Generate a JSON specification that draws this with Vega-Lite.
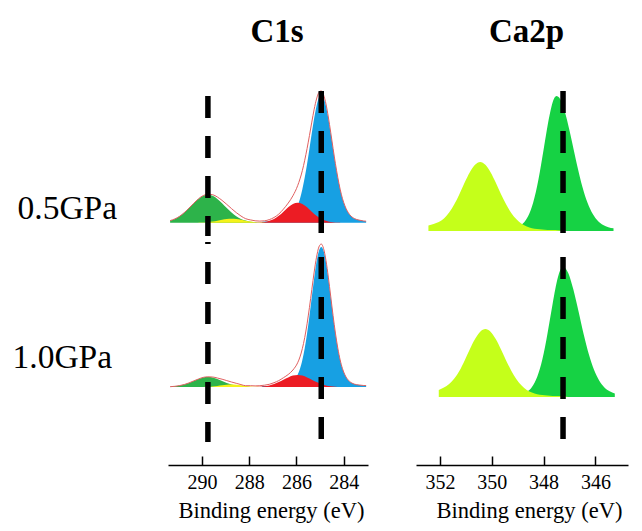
{
  "$schema": "https://vega.github.io/schema/vega-lite/v6.json",
  "padding": {"left": 12, "top": 16, "right": 5, "bottom": 5},
  "background": "white",
  "datasets": {
    "c05": [
      {"c":"C-C","be":287.45,"i":1.0},{"c":"C-C","be":287.15,"i":1.2},{"c":"C-C","be":286.95,"i":1.4},{"c":"C-C","be":286.85,"i":1.5},{"c":"C-C","be":286.75,"i":1.7},{"c":"C-C","be":286.65,"i":2.1},{"c":"C-C","be":286.55,"i":2.6},{"c":"C-C","be":286.45,"i":3.2},{"c":"C-C","be":286.35,"i":4.2},{"c":"C-C","be":286.25,"i":5.8},{"c":"C-C","be":286.15,"i":8.2},{"c":"C-C","be":286.05,"i":11.8},{"c":"C-C","be":285.95,"i":17.0},{"c":"C-C","be":285.85,"i":24.0},{"c":"C-C","be":285.75,"i":33.4},{"c":"C-C","be":285.65,"i":45.1},{"c":"C-C","be":285.55,"i":58.8},{"c":"C-C","be":285.45,"i":73.9},{"c":"C-C","be":285.35,"i":89.6},{"c":"C-C","be":285.25,"i":104.5},{"c":"C-C","be":285.15,"i":116.8},{"c":"C-C","be":285.05,"i":125.0},{"c":"C-C","be":284.95,"i":128},{"c":"C-C","be":284.85,"i":125.0},{"c":"C-C","be":284.75,"i":116.8},{"c":"C-C","be":284.65,"i":104.5},{"c":"C-C","be":284.55,"i":89.6},{"c":"C-C","be":284.45,"i":73.9},{"c":"C-C","be":284.35,"i":58.8},{"c":"C-C","be":284.25,"i":45.1},{"c":"C-C","be":284.15,"i":33.4},{"c":"C-C","be":284.05,"i":24.0},{"c":"C-C","be":283.95,"i":17.0},{"c":"C-C","be":283.85,"i":11.8},{"c":"C-C","be":283.75,"i":8.2},{"c":"C-C","be":283.65,"i":5.8},{"c":"C-C","be":283.55,"i":4.2},{"c":"C-C","be":283.45,"i":3.2},{"c":"C-C","be":283.35,"i":2.6},{"c":"C-C","be":283.25,"i":2.1},{"c":"C-C","be":283.15,"i":1.7},{"c":"C-C","be":283.05,"i":1.5},
      {"c":"C-O","be":287.75,"i":0.1},{"c":"C-O","be":287.55,"i":0.3},{"c":"C-O","be":287.35,"i":0.8},{"c":"C-O","be":287.15,"i":1.9},{"c":"C-O","be":286.95,"i":3.8},{"c":"C-O","be":286.75,"i":6.9},{"c":"C-O","be":286.55,"i":11.0},{"c":"C-O","be":286.35,"i":15.4},{"c":"C-O","be":286.15,"i":18.7},{"c":"C-O","be":285.95,"i":20},{"c":"C-O","be":285.75,"i":18.7},{"c":"C-O","be":285.55,"i":15.4},{"c":"C-O","be":285.35,"i":11.0},{"c":"C-O","be":285.15,"i":6.9},{"c":"C-O","be":284.95,"i":3.8},{"c":"C-O","be":284.75,"i":1.9},{"c":"C-O","be":284.55,"i":0.8},{"c":"C-O","be":284.35,"i":0.3},{"c":"C-O","be":284.15,"i":0.1},
      {"c":"CO3","be":291.35,"i":2.1},{"c":"CO3","be":291.15,"i":3.8},{"c":"CO3","be":290.95,"i":6.4},{"c":"CO3","be":290.75,"i":10.1},{"c":"CO3","be":290.55,"i":14.6},{"c":"CO3","be":290.35,"i":19.4},{"c":"CO3","be":290.15,"i":23.8},{"c":"CO3","be":289.95,"i":26.9},{"c":"CO3","be":289.75,"i":28},{"c":"CO3","be":289.55,"i":26.9},{"c":"CO3","be":289.35,"i":23.8},{"c":"CO3","be":289.15,"i":19.4},{"c":"CO3","be":288.95,"i":14.6},{"c":"CO3","be":288.75,"i":10.1},{"c":"CO3","be":288.55,"i":6.4},{"c":"CO3","be":288.35,"i":3.8},{"c":"CO3","be":288.15,"i":2.1},{"c":"CO3","be":287.95,"i":1.0},{"c":"CO3","be":287.75,"i":0.5},{"c":"CO3","be":287.55,"i":0.2},{"c":"CO3","be":287.35,"i":0},
      {"c":"C=O","be":290.15,"i":0.1},{"c":"C=O","be":289.95,"i":0.2},{"c":"C=O","be":289.75,"i":0.5},{"c":"C=O","be":289.55,"i":1.1},{"c":"C=O","be":289.35,"i":1.9},{"c":"C=O","be":289.15,"i":2.9},{"c":"C=O","be":288.95,"i":3.7},{"c":"C=O","be":288.75,"i":4.0},{"c":"C=O","be":288.55,"i":3.7},{"c":"C=O","be":288.35,"i":2.9},{"c":"C=O","be":288.15,"i":1.9},{"c":"C=O","be":287.95,"i":1.1},{"c":"C=O","be":287.75,"i":0.5},{"c":"C=O","be":287.55,"i":0.2},{"c":"C=O","be":287.35,"i":0.1},
      {"c":"env","be":291.35,"i":2.1},{"c":"env","be":291.15,"i":3.8},{"c":"env","be":290.95,"i":6.4},{"c":"env","be":290.75,"i":10.1},{"c":"env","be":290.55,"i":14.6},{"c":"env","be":290.35,"i":19.4},{"c":"env","be":290.15,"i":23.9},{"c":"env","be":289.95,"i":27.1},{"c":"env","be":289.75,"i":28.5},{"c":"env","be":289.55,"i":28.0},{"c":"env","be":289.35,"i":25.7},{"c":"env","be":289.15,"i":22.3},{"c":"env","be":288.95,"i":18.3},{"c":"env","be":288.75,"i":14.1},{"c":"env","be":288.55,"i":10.1},{"c":"env","be":288.35,"i":6.7},{"c":"env","be":288.15,"i":4.0},{"c":"env","be":287.95,"i":2.8},{"c":"env","be":287.75,"i":1.9},{"c":"env","be":287.55,"i":1.6},{"c":"env","be":287.35,"i":1.9},{"c":"env","be":287.15,"i":3.1},{"c":"env","be":286.95,"i":5.2},{"c":"env","be":286.75,"i":8.6},{"c":"env","be":286.55,"i":13.6},{"c":"env","be":286.35,"i":19.6},{"c":"env","be":286.15,"i":26.9},{"c":"env","be":285.95,"i":37.0},{"c":"env","be":285.75,"i":52.1},{"c":"env","be":285.55,"i":74.2},{"c":"env","be":285.45,"i":87.1},{"c":"env","be":285.35,"i":100.6},{"c":"env","be":285.25,"i":113.4},{"c":"env","be":285.15,"i":123.7},{"c":"env","be":285.05,"i":130.2},{"c":"env","be":284.95,"i":131.8},{"c":"env","be":284.85,"i":127.7},{"c":"env","be":284.75,"i":118.7},{"c":"env","be":284.65,"i":105.7},{"c":"env","be":284.55,"i":90.4},{"c":"env","be":284.45,"i":74.4},{"c":"env","be":284.35,"i":59.1},{"c":"env","be":284.25,"i":45.3},{"c":"env","be":284.15,"i":33.5},{"c":"env","be":284.05,"i":24.0},{"c":"env","be":283.95,"i":17.0},{"c":"env","be":283.75,"i":8.2},{"c":"env","be":283.55,"i":4.2},{"c":"env","be":283.35,"i":2.6},{"c":"env","be":283.15,"i":1.7},{"c":"env","be":283.05,"i":1.5}
    ],
    "c10": [
      {"c":"C-C","be":287.45,"i":0.9},{"c":"C-C","be":287.15,"i":1.1},{"c":"C-C","be":286.95,"i":1.3},{"c":"C-C","be":286.85,"i":1.4},{"c":"C-C","be":286.75,"i":1.5},{"c":"C-C","be":286.65,"i":1.8},{"c":"C-C","be":286.55,"i":2.0},{"c":"C-C","be":286.45,"i":2.4},{"c":"C-C","be":286.35,"i":2.9},{"c":"C-C","be":286.25,"i":3.9},{"c":"C-C","be":286.15,"i":5.6},{"c":"C-C","be":286.05,"i":8.1},{"c":"C-C","be":285.95,"i":12.2},{"c":"C-C","be":285.85,"i":18.3},{"c":"C-C","be":285.75,"i":27.0},{"c":"C-C","be":285.65,"i":38.8},{"c":"C-C","be":285.55,"i":53.6},{"c":"C-C","be":285.45,"i":71.0},{"c":"C-C","be":285.35,"i":90.0},{"c":"C-C","be":285.25,"i":108.8},{"c":"C-C","be":285.15,"i":124.9},{"c":"C-C","be":285.05,"i":136.1},{"c":"C-C","be":284.95,"i":140},{"c":"C-C","be":284.85,"i":136.1},{"c":"C-C","be":284.75,"i":124.9},{"c":"C-C","be":284.65,"i":108.8},{"c":"C-C","be":284.55,"i":90.0},{"c":"C-C","be":284.45,"i":71.0},{"c":"C-C","be":284.35,"i":53.6},{"c":"C-C","be":284.25,"i":38.8},{"c":"C-C","be":284.15,"i":27.0},{"c":"C-C","be":284.05,"i":18.3},{"c":"C-C","be":283.95,"i":12.2},{"c":"C-C","be":283.85,"i":8.1},{"c":"C-C","be":283.75,"i":5.6},{"c":"C-C","be":283.65,"i":3.9},{"c":"C-C","be":283.55,"i":2.9},{"c":"C-C","be":283.45,"i":2.4},{"c":"C-C","be":283.35,"i":2.0},{"c":"C-C","be":283.25,"i":1.8},{"c":"C-C","be":283.15,"i":1.5},{"c":"C-C","be":283.05,"i":1.4},
      {"c":"C-O","be":287.95,"i":0},{"c":"C-O","be":287.75,"i":0.1},{"c":"C-O","be":287.55,"i":0.3},{"c":"C-O","be":287.35,"i":0.8},{"c":"C-O","be":287.15,"i":1.6},{"c":"C-O","be":286.95,"i":3.0},{"c":"C-O","be":286.75,"i":4.9},{"c":"C-O","be":286.55,"i":7.3},{"c":"C-O","be":286.35,"i":9.6},{"c":"C-O","be":286.15,"i":11.4},{"c":"C-O","be":285.95,"i":12},{"c":"C-O","be":285.75,"i":11.4},{"c":"C-O","be":285.55,"i":9.6},{"c":"C-O","be":285.35,"i":7.3},{"c":"C-O","be":285.15,"i":4.9},{"c":"C-O","be":284.95,"i":3.0},{"c":"C-O","be":284.75,"i":1.6},{"c":"C-O","be":284.55,"i":0.8},{"c":"C-O","be":284.35,"i":0.3},{"c":"C-O","be":284.15,"i":0.1},
      {"c":"CO3","be":291.35,"i":0.3},{"c":"CO3","be":291.15,"i":0.7},{"c":"CO3","be":290.95,"i":1.4},{"c":"CO3","be":290.75,"i":2.5},{"c":"CO3","be":290.55,"i":4.1},{"c":"CO3","be":290.35,"i":6.1},{"c":"CO3","be":290.15,"i":8.0},{"c":"CO3","be":289.95,"i":9.5},{"c":"CO3","be":289.75,"i":10},{"c":"CO3","be":289.55,"i":9.5},{"c":"CO3","be":289.35,"i":8.0},{"c":"CO3","be":289.15,"i":6.1},{"c":"CO3","be":288.95,"i":4.1},{"c":"CO3","be":288.75,"i":2.5},{"c":"CO3","be":288.55,"i":1.4},{"c":"CO3","be":288.35,"i":0.7},{"c":"CO3","be":288.15,"i":0.3},{"c":"CO3","be":287.95,"i":0.1},{"c":"CO3","be":287.75,"i":0},
      {"c":"C=O","be":289.95,"i":0.1},{"c":"C=O","be":289.75,"i":0.2},{"c":"C=O","be":289.55,"i":0.5},{"c":"C=O","be":289.35,"i":1.0},{"c":"C=O","be":289.15,"i":1.7},{"c":"C=O","be":288.95,"i":2.3},{"c":"C=O","be":288.75,"i":2.5},{"c":"C=O","be":288.55,"i":2.3},{"c":"C=O","be":288.35,"i":1.7},{"c":"C=O","be":288.15,"i":1.0},{"c":"C=O","be":287.95,"i":0.5},{"c":"C=O","be":287.75,"i":0.2},{"c":"C=O","be":287.55,"i":0.1},
      {"c":"env","be":291.35,"i":0.3},{"c":"env","be":291.15,"i":0.7},{"c":"env","be":290.95,"i":1.4},{"c":"env","be":290.75,"i":2.5},{"c":"env","be":290.55,"i":4.1},{"c":"env","be":290.35,"i":6.1},{"c":"env","be":290.15,"i":8.0},{"c":"env","be":289.95,"i":9.6},{"c":"env","be":289.75,"i":10.2},{"c":"env","be":289.55,"i":10.0},{"c":"env","be":289.35,"i":9.0},{"c":"env","be":289.15,"i":7.8},{"c":"env","be":288.95,"i":6.4},{"c":"env","be":288.75,"i":5.0},{"c":"env","be":288.55,"i":3.7},{"c":"env","be":288.35,"i":2.4},{"c":"env","be":288.15,"i":1.3},{"c":"env","be":287.95,"i":1.3},{"c":"env","be":287.75,"i":1.1},{"c":"env","be":287.55,"i":1.3},{"c":"env","be":287.35,"i":1.8},{"c":"env","be":287.15,"i":2.7},{"c":"env","be":286.95,"i":4.3},{"c":"env","be":286.75,"i":6.4},{"c":"env","be":286.55,"i":9.3},{"c":"env","be":286.35,"i":12.5},{"c":"env","be":286.15,"i":17.0},{"c":"env","be":285.95,"i":24.2},{"c":"env","be":285.85,"i":30.1},{"c":"env","be":285.75,"i":38.4},{"c":"env","be":285.65,"i":49.4},{"c":"env","be":285.55,"i":63.2},{"c":"env","be":285.45,"i":79.5},{"c":"env","be":285.35,"i":97.3},{"c":"env","be":285.25,"i":114.9},{"c":"env","be":285.15,"i":129.8},{"c":"env","be":285.05,"i":140.0},{"c":"env","be":284.95,"i":143.0},{"c":"env","be":284.85,"i":138.3},{"c":"env","be":284.75,"i":126.5},{"c":"env","be":284.65,"i":109.9},{"c":"env","be":284.55,"i":90.8},{"c":"env","be":284.45,"i":71.5},{"c":"env","be":284.35,"i":53.9},{"c":"env","be":284.25,"i":39.0},{"c":"env","be":284.15,"i":27.1},{"c":"env","be":284.05,"i":18.3},{"c":"env","be":283.95,"i":12.2},{"c":"env","be":283.75,"i":5.6},{"c":"env","be":283.55,"i":2.9},{"c":"env","be":283.35,"i":2.0},{"c":"env","be":283.15,"i":1.5},{"c":"env","be":283.05,"i":1.4}
    ],
    "a05": [
      {"c":"2p3/2","be":349.5,"i":1.6},{"c":"2p3/2","be":349.3,"i":2.2},{"c":"2p3/2","be":349.1,"i":3.1},{"c":"2p3/2","be":348.9,"i":5.3},{"c":"2p3/2","be":348.7,"i":10.4},{"c":"2p3/2","be":348.5,"i":20.8},{"c":"2p3/2","be":348.4,"i":28.8},{"c":"2p3/2","be":348.3,"i":39.0},{"c":"2p3/2","be":348.2,"i":51.4},{"c":"2p3/2","be":348.1,"i":65.9},{"c":"2p3/2","be":348.0,"i":81.4},{"c":"2p3/2","be":347.9,"i":97.2},{"c":"2p3/2","be":347.8,"i":111.9},{"c":"2p3/2","be":347.7,"i":124.1},{"c":"2p3/2","be":347.6,"i":132.2},{"c":"2p3/2","be":347.5,"i":135},{"c":"2p3/2","be":347.4,"i":133.4},{"c":"2p3/2","be":347.3,"i":128.7},{"c":"2p3/2","be":347.2,"i":121.1},{"c":"2p3/2","be":347.1,"i":111.5},{"c":"2p3/2","be":347.0,"i":100.4},{"c":"2p3/2","be":346.9,"i":88.7},{"c":"2p3/2","be":346.8,"i":76.7},{"c":"2p3/2","be":346.7,"i":64.9},{"c":"2p3/2","be":346.6,"i":54.0},{"c":"2p3/2","be":346.5,"i":44.0},{"c":"2p3/2","be":346.3,"i":27.9},{"c":"2p3/2","be":346.1,"i":16.9},{"c":"2p3/2","be":345.9,"i":10.0},{"c":"2p3/2","be":345.7,"i":5.9},{"c":"2p3/2","be":345.5,"i":3.8},{"c":"2p3/2","be":345.3,"i":2.7},
      {"c":"2p1/2","be":352.45,"i":5.5},{"c":"2p1/2","be":352.25,"i":7.0},{"c":"2p1/2","be":352.05,"i":9.0},{"c":"2p1/2","be":351.85,"i":12.5},{"c":"2p1/2","be":351.65,"i":18.5},{"c":"2p1/2","be":351.45,"i":26.7},{"c":"2p1/2","be":351.25,"i":37.1},{"c":"2p1/2","be":351.05,"i":48.4},{"c":"2p1/2","be":350.85,"i":58.7},{"c":"2p1/2","be":350.65,"i":66.2},{"c":"2p1/2","be":350.45,"i":69},{"c":"2p1/2","be":350.25,"i":66.2},{"c":"2p1/2","be":350.05,"i":58.7},{"c":"2p1/2","be":349.85,"i":48.4},{"c":"2p1/2","be":349.65,"i":37.1},{"c":"2p1/2","be":349.45,"i":26.7},{"c":"2p1/2","be":349.25,"i":18.1},{"c":"2p1/2","be":349.05,"i":11.7},{"c":"2p1/2","be":348.85,"i":7.2},{"c":"2p1/2","be":348.65,"i":4.5},{"c":"2p1/2","be":348.45,"i":2.8},{"c":"2p1/2","be":348.25,"i":1.9},{"c":"2p1/2","be":348.05,"i":1.4},{"c":"2p1/2","be":347.85,"i":1.1},{"c":"2p1/2","be":347.65,"i":0.9},{"c":"2p1/2","be":347.45,"i":0.8},{"c":"2p1/2","be":347.25,"i":0}
    ],
    "a10": [
      {"c":"2p3/2","be":349.25,"i":1.6},{"c":"2p3/2","be":349.05,"i":2.1},{"c":"2p3/2","be":348.85,"i":3.0},{"c":"2p3/2","be":348.65,"i":5.1},{"c":"2p3/2","be":348.45,"i":10.0},{"c":"2p3/2","be":348.25,"i":20.0},{"c":"2p3/2","be":348.15,"i":27.7},{"c":"2p3/2","be":348.05,"i":37.6},{"c":"2p3/2","be":347.95,"i":49.5},{"c":"2p3/2","be":347.85,"i":63.4},{"c":"2p3/2","be":347.75,"i":78.4},{"c":"2p3/2","be":347.65,"i":93.6},{"c":"2p3/2","be":347.55,"i":107.8},{"c":"2p3/2","be":347.45,"i":119.5},{"c":"2p3/2","be":347.35,"i":127.3},{"c":"2p3/2","be":347.25,"i":130},{"c":"2p3/2","be":347.15,"i":128.4},{"c":"2p3/2","be":347.05,"i":123.9},{"c":"2p3/2","be":346.95,"i":116.6},{"c":"2p3/2","be":346.85,"i":107.4},{"c":"2p3/2","be":346.75,"i":96.7},{"c":"2p3/2","be":346.65,"i":85.4},{"c":"2p3/2","be":346.55,"i":73.8},{"c":"2p3/2","be":346.45,"i":62.5},{"c":"2p3/2","be":346.35,"i":52.0},{"c":"2p3/2","be":346.25,"i":42.4},{"c":"2p3/2","be":346.05,"i":26.9},{"c":"2p3/2","be":345.85,"i":16.3},{"c":"2p3/2","be":345.65,"i":9.6},{"c":"2p3/2","be":345.45,"i":5.7},{"c":"2p3/2","be":345.25,"i":3.6},
      {"c":"2p1/2","be":352.05,"i":7.0},{"c":"2p1/2","be":351.85,"i":9.5},{"c":"2p1/2","be":351.65,"i":13.0},{"c":"2p1/2","be":351.45,"i":18.5},{"c":"2p1/2","be":351.25,"i":26.3},{"c":"2p1/2","be":351.05,"i":36.6},{"c":"2p1/2","be":350.85,"i":47.7},{"c":"2p1/2","be":350.65,"i":57.9},{"c":"2p1/2","be":350.45,"i":65.3},{"c":"2p1/2","be":350.25,"i":68},{"c":"2p1/2","be":350.05,"i":65.3},{"c":"2p1/2","be":349.85,"i":57.9},{"c":"2p1/2","be":349.65,"i":47.7},{"c":"2p1/2","be":349.45,"i":36.6},{"c":"2p1/2","be":349.25,"i":26.3},{"c":"2p1/2","be":349.05,"i":17.8},{"c":"2p1/2","be":348.85,"i":11.5},{"c":"2p1/2","be":348.65,"i":7.1},{"c":"2p1/2","be":348.45,"i":4.4},{"c":"2p1/2","be":348.25,"i":2.8},{"c":"2p1/2","be":348.05,"i":1.9},{"c":"2p1/2","be":347.85,"i":1.4},{"c":"2p1/2","be":347.65,"i":1.1},{"c":"2p1/2","be":347.45,"i":0.9},{"c":"2p1/2","be":347.25,"i":0.8},{"c":"2p1/2","be":347.05,"i":0}
    ]
  },
  "spacing": 48,
  "hconcat": [
    {
      "spacing": 0,
      "vconcat": [
        {
          "title": {"text": "C1s", "font": "Liberation Serif", "fontSize": 33, "fontWeight": "bold", "color": "black", "anchor": "middle", "frame": "group", "baseline": "alphabetic", "offset": 12, "dx": 9},
          "width": 200, "height": 146,
          "data": {"name": "c05"},
          "encoding": {"x": {"field": "be", "type": "quantitative", "scale": {"domain": [282.97, 291.44], "reverse": true, "nice": false, "zero": false}, "axis": null}},
          "layer": [
            {
              "encoding": {"y": {"field": "i", "type": "quantitative", "scale": {"domain": [-13.3, 132.7], "nice": false, "zero": false}, "axis": {"title": "0.5GPa", "titleAngle": 0, "titleAlign": "left", "titleBaseline": "alphabetic", "titleX": -151, "titleY": 128, "titleFont": "Liberation Serif", "titleFontSize": 33.5, "titleFontWeight": "normal", "titleColor": "black", "labels": false, "ticks": false, "domain": false, "grid": false}}},
              "layer": [
                {"transform": [{"filter": "datum.c === 'C-C'"}], "mark": {"type": "area", "color": "#17a0e3", "interpolate": "monotone", "opacity": 1, "clip": true}},
                {"transform": [{"filter": "datum.c === 'CO3'"}], "mark": {"type": "area", "color": "#2db34a", "interpolate": "monotone", "opacity": 1, "clip": true}},
                {"transform": [{"filter": "datum.c === 'C-O'"}], "mark": {"type": "area", "color": "#ec1c24", "interpolate": "monotone", "opacity": 1, "clip": true}},
                {"transform": [{"filter": "datum.c === 'C=O'"}], "mark": {"type": "area", "color": "#f5f21a", "interpolate": "monotone", "opacity": 1, "clip": true}},
                {"transform": [{"filter": "datum.c === 'env'"}], "mark": {"type": "line", "color": "#e06060", "strokeWidth": 1, "interpolate": "monotone", "clip": true}}
              ]
            },
            {"data": {"values": [{"be": 289.75}]}, "mark": {"type": "rule", "color": "black", "strokeWidth": 5.5, "strokeDash": [22, 18], "strokeDashOffset": 34}, "encoding": {"x": {"field": "be", "type": "quantitative"}}},
            {"data": {"values": [{"be": 284.95}]}, "mark": {"type": "rule", "color": "black", "strokeWidth": 5.5, "strokeDash": [22, 18], "strokeDashOffset": 39}, "encoding": {"x": {"field": "be", "type": "quantitative"}}}
          ]
        },
        {
          "width": 200, "height": 200,
          "data": {"name": "c10"},
          "encoding": {"x": {"field": "be", "type": "quantitative", "scale": {"domain": [282.97, 291.44], "reverse": true, "nice": false, "zero": false}, "axis": {"values": [290, 288, 286, 284], "format": "d", "offset": 23, "tickSize": -9, "tickWidth": 1.5, "tickColor": "black", "domainColor": "black", "domainWidth": 1.5, "labelFont": "Liberation Serif", "labelFontSize": 20, "labelColor": "black", "labelPadding": 16, "labelFlush": false, "labelOverlap": false, "grid": false, "title": "Binding energy (eV)", "titleFont": "Liberation Serif", "titleFontSize": 22.5, "titleFontWeight": "normal", "titleColor": "black", "titleBaseline": "alphabetic", "titleAlign": "center", "titleX": 103, "titleY": 52}}},
          "layer": [
            {
              "encoding": {"y": {"field": "i", "type": "quantitative", "scale": {"domain": [-55, 145], "nice": false, "zero": false}, "axis": {"title": "1.0GPa", "titleAngle": 0, "titleAlign": "left", "titleBaseline": "alphabetic", "titleX": -156, "titleY": 125, "titleFont": "Liberation Serif", "titleFontSize": 33.5, "titleFontWeight": "normal", "titleColor": "black", "labels": false, "ticks": false, "domain": false, "grid": false}}},
              "layer": [
                {"transform": [{"filter": "datum.c === 'C-C'"}], "mark": {"type": "area", "color": "#17a0e3", "interpolate": "monotone", "opacity": 1, "clip": true}},
                {"transform": [{"filter": "datum.c === 'CO3'"}], "mark": {"type": "area", "color": "#2db34a", "interpolate": "monotone", "opacity": 1, "clip": true}},
                {"transform": [{"filter": "datum.c === 'C-O'"}], "mark": {"type": "area", "color": "#ec1c24", "interpolate": "monotone", "opacity": 1, "clip": true}},
                {"transform": [{"filter": "datum.c === 'C=O'"}], "mark": {"type": "area", "color": "#f5f21a", "interpolate": "monotone", "opacity": 1, "clip": true}},
                {"transform": [{"filter": "datum.c === 'env'"}], "mark": {"type": "line", "color": "#e06060", "strokeWidth": 1, "interpolate": "monotone", "clip": true}}
              ]
            },
            {"data": {"values": [{"be": 289.75}]}, "mark": {"type": "rule", "color": "black", "strokeWidth": 5.5, "strokeDash": [22, 18], "strokeDashOffset": 20}, "encoding": {"x": {"field": "be", "type": "quantitative"}}},
            {"data": {"values": [{"be": 284.95}]}, "mark": {"type": "rule", "color": "black", "strokeWidth": 5.5, "strokeDash": [22, 18], "strokeDashOffset": 25}, "encoding": {"x": {"field": "be", "type": "quantitative"}}}
          ]
        }
      ]
    },
    {
      "spacing": 0,
      "vconcat": [
        {
          "title": {"text": "Ca2p", "font": "Liberation Serif", "fontSize": 33, "fontWeight": "bold", "color": "black", "anchor": "middle", "frame": "group", "baseline": "alphabetic", "offset": 12, "dx": 4.5},
          "width": 212, "height": 146,
          "data": {"name": "a05"},
          "encoding": {"x": {"field": "be", "type": "quantitative", "scale": {"domain": [344.74, 352.93], "reverse": true, "nice": false, "zero": false}, "axis": null}},
          "layer": [
            {
              "encoding": {"y": {"field": "i", "type": "quantitative", "scale": {"domain": [-5, 141], "nice": false, "zero": false}, "axis": null}},
              "layer": [
                {"transform": [{"filter": "datum.c === '2p3/2'"}], "mark": {"type": "area", "color": "#16d244", "interpolate": "monotone", "opacity": 1, "clip": true}},
                {"transform": [{"filter": "datum.c === '2p1/2'"}], "mark": {"type": "area", "color": "#c5ff1a", "interpolate": "monotone", "opacity": 1, "clip": true}}
              ]
            },
            {"data": {"values": [{"be": 347.25}]}, "mark": {"type": "rule", "color": "black", "strokeWidth": 5.5, "strokeDash": [22, 18], "strokeDashOffset": 39}, "encoding": {"x": {"field": "be", "type": "quantitative"}}}
          ]
        },
        {
          "width": 212, "height": 200,
          "data": {"name": "a10"},
          "encoding": {"x": {"field": "be", "type": "quantitative", "scale": {"domain": [344.74, 352.93], "reverse": true, "nice": false, "zero": false}, "axis": {"values": [352, 350, 348, 346], "format": "d", "offset": 23, "tickSize": -9, "tickWidth": 1.5, "tickColor": "black", "domainColor": "black", "domainWidth": 1.5, "labelFont": "Liberation Serif", "labelFontSize": 20, "labelColor": "black", "labelPadding": 16, "labelFlush": false, "labelOverlap": false, "grid": false, "title": "Binding energy (eV)", "titleFont": "Liberation Serif", "titleFontSize": 22.5, "titleFontWeight": "normal", "titleColor": "black", "titleBaseline": "alphabetic", "titleAlign": "center", "titleX": 113, "titleY": 52}}},
          "layer": [
            {
              "encoding": {"y": {"field": "i", "type": "quantitative", "scale": {"domain": [-45, 155], "nice": false, "zero": false}, "axis": null}},
              "layer": [
                {"transform": [{"filter": "datum.c === '2p3/2'"}], "mark": {"type": "area", "color": "#16d244", "interpolate": "monotone", "opacity": 1, "clip": true}},
                {"transform": [{"filter": "datum.c === '2p1/2'"}], "mark": {"type": "area", "color": "#c5ff1a", "interpolate": "monotone", "opacity": 1, "clip": true}}
              ]
            },
            {"data": {"values": [{"be": 347.25}]}, "mark": {"type": "rule", "color": "black", "strokeWidth": 5.5, "strokeDash": [22, 18], "strokeDashOffset": 25}, "encoding": {"x": {"field": "be", "type": "quantitative"}}}
          ]
        }
      ]
    }
  ],
  "config": {"view": {"stroke": null}, "font": "Liberation Serif", "axis": {"grid": false}}
}
